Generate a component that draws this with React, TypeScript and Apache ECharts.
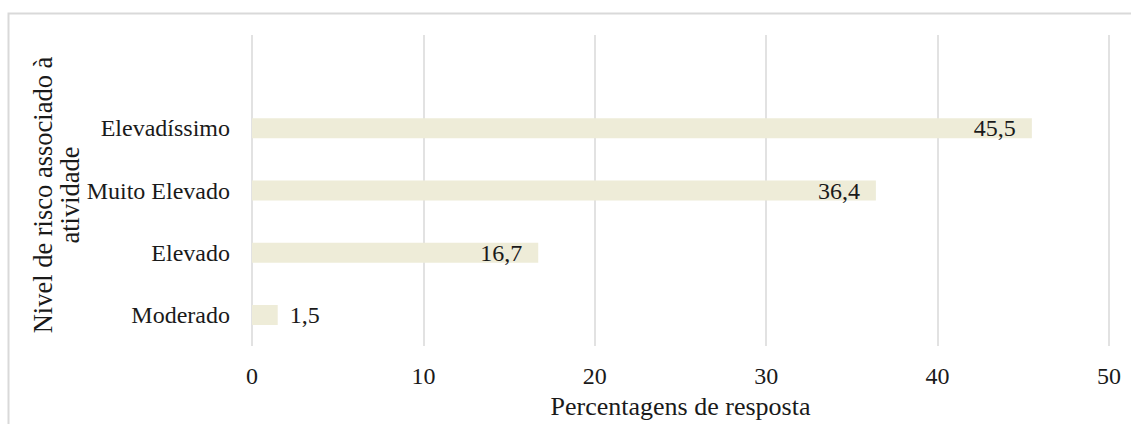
import React, { useEffect, useRef } from "react";
import * as echarts from "echarts";

const categories = ["Moderado", "Elevado", "Muito Elevado", "Elevadíssimo"];
const values = [1.5, 16.7, 36.4, 45.5];
const xTicks = { min: 0, max: 50, interval: 10 };
const xTitle = "Percentagens de resposta";
const yTitle = "Nivel de risco associado à\natividade";

const FONT = "'Liberation Serif', 'Times New Roman', serif";
const TEXT = "#1a1a1a";

export default function App() {
  const ref = useRef<HTMLDivElement>(null);
  useEffect(() => {
    if (!ref.current) return;
    const chart = echarts.init(ref.current, null, { renderer: "svg" });
    const data = values.map((v) => ({
      value: v,
      label: v < 5 ? { position: "right", distance: 12 } : { position: "insideRight", distance: 16 },
    }));
    chart.setOption({
      animation: false,
      backgroundColor: "#ffffff",
      grid: { left: 252, right: 22, top: 35, bottom: 67 },
      xAxis: {
        type: "value",
        min: xTicks.min,
        max: xTicks.max,
        interval: xTicks.interval,
        name: xTitle,
        nameLocation: "middle",
        nameGap: 40,
        nameTextStyle: { fontFamily: FONT, fontSize: 26, color: TEXT },
        axisLine: { show: false },
        axisTick: { show: false },
        axisLabel: { fontFamily: FONT, fontSize: 24, color: TEXT, margin: 18 },
        splitLine: { show: true, lineStyle: { color: "#d9d9d9", width: 1.5 } },
      },
      yAxis: {
        type: "category",
        data: [...categories, ""],
        axisLine: { show: false },
        axisTick: { show: false },
        axisLabel: { fontFamily: FONT, fontSize: 24, color: TEXT, margin: 22 },
        splitLine: { show: false },
      },
      graphic: [
        {
          type: "rect",
          shape: { x: 8.5, y: 13.5, width: 1300, height: 600 },
          style: { fill: "none", stroke: "#d9d9d9", lineWidth: 2 },
          silent: true,
        },
        {
          type: "text",
          x: 56,
          y: 195,
          rotation: Math.PI / 2,
          style: {
            text: yTitle,
            fontFamily: FONT,
            fontSize: 26.5,
            lineHeight: 27,
            fill: TEXT,
            align: "center",
            verticalAlign: "middle",
          },
        },
      ],
      series: [
        {
          type: "bar",
          data,
          barWidth: 20,
          itemStyle: { color: "#EEECD8" },
          label: {
            show: true,
            fontFamily: FONT,
            fontSize: 24,
            color: TEXT,
            formatter: (p: any) => Number(p.value).toFixed(1).replace(".", ","),
          },
        },
      ],
    });
    return () => chart.dispose();
  }, []);
  return (
    <div
      ref={ref}
      style={{ position: "fixed", left: 0, top: 0, width: 1131, height: 424 }}
    />
  );
}
